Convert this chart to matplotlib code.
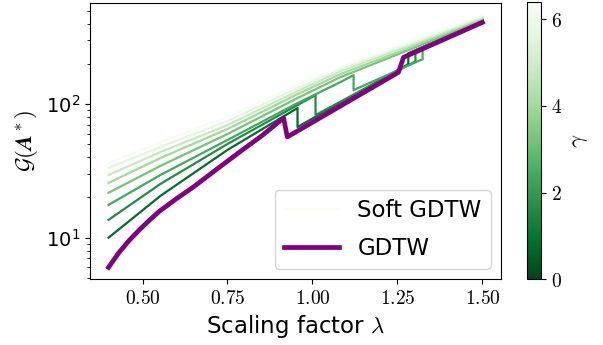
import numpy as np
import matplotlib
matplotlib.use('Agg')
import matplotlib.pyplot as plt
from matplotlib import cm, colors

matplotlib.rc('mathtext', fontset='cm')
plt.rcParams['axes.formatter.use_mathtext'] = True
matplotlib.rc('font', family='DejaVu Sans')

# gamma values of the soft lines (colour scale)
gammas = [0.8, 1.6, 2.4, 3.2, 4.0, 4.8, 5.6, 6.4]
gamma_max = 6.4

# hard GDTW
lam_gdtw = [0.40, 0.43, 0.46, 0.49, 0.52, 0.55, 0.60, 0.65, 0.72, 0.794, 0.85, 0.915,
            0.926, 1.253, 1.268, 1.500]
g_gdtw = [6.0, 7.7, 9.5, 11.4, 13.5, 15.8, 19.6, 24.0, 32.8, 45.4, 57.7, 78.7,
          56.8, 173, 224, 409]

# soft GDTW, one list per gamma
lam_soft1 = [0.400, 0.553, 0.750, 0.956, 0.956, 1.282, 1.282, 1.500]
g_soft1 = [10.0, 20.6, 45.4, 93.4, 67.4, 199, 240, 416]
lam_soft2 = [0.400, 0.553, 0.750, 0.956, 1.009, 1.009, 1.303, 1.303, 1.500]
g_soft2 = [13.6, 25.3, 50.3, 98.3, 116.7, 82.8, 209, 253, 424]
lam_soft3 = [0.400, 0.553, 0.750, 0.956, 1.082, 1.121, 1.121, 1.324, 1.324, 1.500]
g_soft3 = [17.6, 29.5, 53.9, 101.7, 146.0, 164.6, 127.2, 217, 266, 428]
lam_smooth = [0.400, 0.553, 0.750, 0.956, 1.082, 1.288, 1.500]
g_soft4 = [21.7, 34.5, 59.7, 110.9, 159.1, 257, 432]
g_soft5 = [25.7, 39.5, 65.1, 118.8, 167.5, 266, 438]
g_soft6 = [29.5, 43.8, 69.7, 125.0, 176.3, 276, 446]
g_soft7 = [33.3, 47.8, 74.7, 131.7, 182.5, 285, 454]
g_soft8 = [36.3, 52.1, 80.0, 138.7, 188.9, 295, 462]

soft = [(lam_soft1, g_soft1), (lam_soft2, g_soft2), (lam_soft3, g_soft3),
        (lam_smooth, g_soft4), (lam_smooth, g_soft5), (lam_smooth, g_soft6),
        (lam_smooth, g_soft7), (lam_smooth, g_soft8)]

norm = colors.Normalize(vmin=0, vmax=gamma_max)
cmap = plt.get_cmap('Greens_r')

fig = plt.figure(figsize=(6.03, 3.45), dpi=100)
ax = fig.add_axes([0.149, 0.191, 0.682, 0.800])
cax = fig.add_axes([0.874, 0.191, 0.023, 0.803])

for i, (lam, g) in enumerate(soft):
    lab = 'Soft GDTW' if i == len(soft) - 1 else None
    ax.plot(lam, g, color=cmap(norm(gammas[i])), lw=1.6, label=lab)
ax.plot(lam_gdtw, g_gdtw, color='purple', lw=3.4, label='GDTW')

ax.set_yscale('log')
ax.set_ylim(4.9, 570)
ax.set_xticks([0.5, 0.75, 1.0, 1.25, 1.5])
ax.set_xticklabels([r'$0.50$', r'$0.75$', r'$1.00$', r'$1.25$', r'$1.50$'])
ax.tick_params(labelsize=14)
ax.set_xlabel(r'Scaling factor $\lambda$', fontsize=16.5)
ax.set_ylabel(r'$\mathcal{G}(\boldsymbol{A}^*)$', fontsize=16.5)

leg = ax.legend(loc='lower right', fontsize=16.5, handlelength=2.4,
                labelspacing=0.65, borderaxespad=0.45)

sm = cm.ScalarMappable(norm=norm, cmap=cmap)
cb = fig.colorbar(sm, cax=cax)
cb.set_ticks([0, 2, 4, 6])
cb.set_ticklabels([r'$0$', r'$2$', r'$4$', r'$6$'])
cb.ax.tick_params(labelsize=14)
cb.set_label(r'$\gamma$', fontsize=16.5)

plt.savefig('out.png', dpi=100)
plt.close()
